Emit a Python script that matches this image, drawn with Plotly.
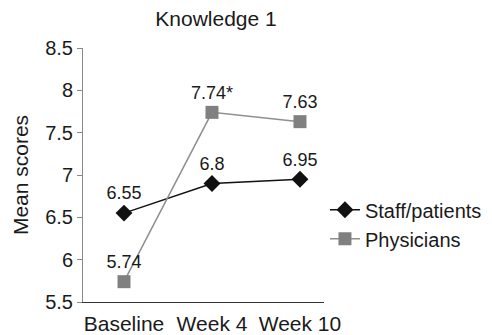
import plotly.graph_objects as go

categories = ["Baseline", "Week 4", "Week 10"]
staff_values = [6.55, 6.9, 6.95]
staff_labels = ["6.55", "6.8", "6.95"]
phys_values = [5.74, 7.74, 7.63]
phys_labels = ["5.74", "7.74*", "7.63"]
y_ticks = [5.5, 6, 6.5, 7, 7.5, 8, 8.5]
y_tick_labels = ["5.5", "6", "6.5", "7", "7.5", "8", "8.5"]

FONT = "Liberation Sans, Arial, Helvetica, sans-serif"
TXT = "#1a1a1a"

# The page body adds an 8px margin, so the figure is 8px smaller than the window.
W, H = 484, 327

fig = go.Figure()
fig.add_trace(go.Scatter(
    x=categories, y=staff_values, name="Staff/patients",
    mode="lines+markers+text", text=staff_labels, textposition="top center",
    textfont=dict(size=18, color=TXT),
    line=dict(color="#111111", width=1.5),
    marker=dict(symbol="diamond", size=13, color="#111111"),
    cliponaxis=False,
))
fig.add_trace(go.Scatter(
    x=categories, y=phys_values, name="Physicians",
    mode="lines+markers+text", text=phys_labels, textposition="top center",
    textfont=dict(size=18, color=TXT),
    line=dict(color="#8e8e8e", width=1.5),
    marker=dict(symbol="square", size=13, color="#808080"),
    cliponaxis=False,
))

fig.update_layout(
    width=W, height=H,
    margin=dict(l=75, r=168, t=40, b=33, autoexpand=False),
    paper_bgcolor="white", plot_bgcolor="white",
    font=dict(family=FONT, size=20, color=TXT),
    title=dict(text="Knowledge 1", x=208 / W, xanchor="center",
               y=1 - 11 / H, yanchor="middle",
               font=dict(size=21, family=FONT, color=TXT)),
    showlegend=True,
    legend=dict(x=1.004, xanchor="left", y=0.44, yanchor="top",
                font=dict(size=20, family=FONT, color=TXT),
                bgcolor="rgba(0,0,0,0)", tracegroupgap=3),
    xaxis=dict(type="category", range=[-0.466, 2.273], automargin=False,
               showline=True, linecolor="#333333", linewidth=1,
               ticks="outside", ticklen=3, tickcolor="rgba(0,0,0,0)",
               showgrid=False, zeroline=False,
               tickfont=dict(size=21, family=FONT, color=TXT)),
    yaxis=dict(range=[5.5, 8.5], tickvals=y_ticks, ticktext=y_tick_labels,
               automargin=False,
               showline=True, linecolor="#888888", linewidth=1,
               ticks="outside", ticklen=5, tickcolor="#888888",
               showgrid=False, zeroline=False,
               tickfont=dict(size=20, family=FONT, color=TXT),
               title=dict(text="Mean scores", standoff=10,
                          font=dict(size=21, family=FONT, color=TXT))),
)

fig.write_html("out.html")
